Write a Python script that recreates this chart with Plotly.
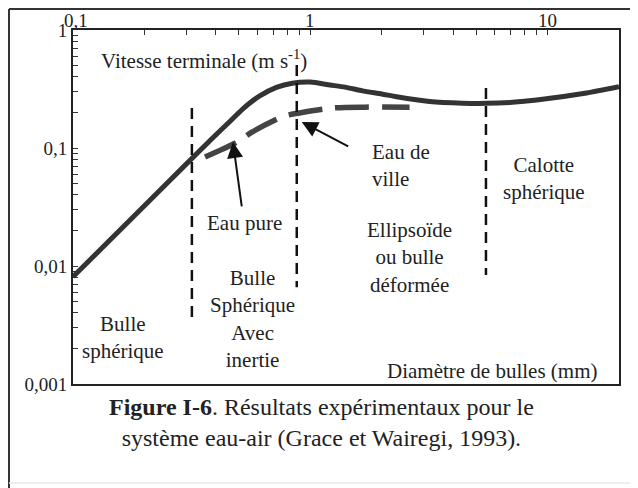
import plotly.graph_objects as go
import math

# ---- data ----
solid_x = [0.1, 0.2, 0.3, 0.38, 0.45, 0.52, 0.61, 0.72, 0.84, 1.0, 1.21, 1.4, 1.66, 2.0, 2.31, 3.18, 4.39, 5.5, 7.1, 9.0, 14.6, 20]
solid_y = [0.0081, 0.0324, 0.073, 0.117, 0.162, 0.215, 0.275, 0.326, 0.354, 0.362, 0.342, 0.328, 0.305, 0.287, 0.272, 0.248, 0.24, 0.239, 0.244, 0.255, 0.292, 0.33]

dashed_x = [0.36, 0.49, 0.57, 0.78, 0.90, 1.24, 1.7, 2.62]
dashed_y = [0.084, 0.112, 0.137, 0.187, 0.198, 0.218, 0.222, 0.222]

vline_x = [0.317, 0.877, 5.5]
vline_top = [0.218, 0.505, 0.322]
vline_bottom = [0.0037, 0.0066, 0.0084]

x_ticks = [0.1, 0.2, 0.3, 0.4, 0.5, 0.6, 0.7, 0.8, 0.9, 1, 2, 3, 4, 5, 6, 7, 8, 9, 10, 20]
x_label_vals = [0.1, 1, 10]
x_label_text = ["0,1", "1", "10"]
y_ticks = [0.001, 0.002, 0.003, 0.004, 0.005, 0.006, 0.007, 0.008, 0.009,
           0.01, 0.02, 0.03, 0.04, 0.05, 0.06, 0.07, 0.08, 0.09,
           0.1, 0.2, 0.3, 0.4, 0.5, 0.6, 0.7, 0.8, 0.9, 1]
y_ticktext = ["0,001"] + [""] * 8 + ["0,01"] + [""] * 8 + ["0,1"] + [""] * 8 + ["1"]

FONT = "Liberation Serif, Times New Roman, serif"
INK = "#222222"
L = math.log10

fig = go.Figure()

fig.add_trace(go.Scatter(x=solid_x, y=solid_y, mode="lines",
                         line=dict(color="#333333", width=5, shape="spline", smoothing=0.6),
                         hoverinfo="skip", showlegend=False))
fig.add_trace(go.Scatter(x=dashed_x, y=dashed_y, mode="lines",
                         line=dict(color="#444444", width=5.5, dash="34px,13px", shape="spline", smoothing=0.8),
                         hoverinfo="skip", showlegend=False))
for vx, vt, vb in zip(vline_x, vline_top, vline_bottom):
    fig.add_trace(go.Scatter(x=[vx, vx], y=[vt, vb], mode="lines",
                             line=dict(color="#111111", width=2.5, dash="11px,7px"),
                             hoverinfo="skip", showlegend=False))

def label(text, x, y, xanchor="center", size=21):
    fig.add_annotation(x=L(x), y=L(y), xref="x", yref="y", text=text, showarrow=False,
                       xanchor=xanchor, yanchor="middle", align=xanchor if xanchor != "center" else "center",
                       font=dict(family=FONT, size=size, color=INK))

label("Vitesse terminale (m s<sup>-1</sup>)", 10 ** -0.448, 10 ** -0.254)
label("Eau pure", 10 ** -0.276, 10 ** -1.636)
label("Bulle<br>Sphérique<br>Avec<br>inertie", 10 ** -0.242, 10 ** -2.445)
label("Bulle<br>sphérique", 10 ** -0.789, 10 ** -2.61)
label("Eau de<br>ville", 10 ** 0.251, 10 ** -1.148, xanchor="left")
label("Calotte<br>sphérique", 10 ** 0.987, 10 ** -1.258)
label("Ellipsoïde<br>ou bulle<br>déformée", 10 ** 0.419, 10 ** -1.932)
label("Diamètre de bulles (mm)", 10 ** 1.219, 10 ** -2.89, xanchor="right")

# top-axis tick labels, set close to the axis line as in the reference
for v, t in zip(x_label_vals, x_label_text):
    fig.add_annotation(x=L(v), y=1, xref="x", yref="paper", text=t, showarrow=False,
                       xanchor="center", yanchor="middle", yshift=10, xshift=3 if v == 0.1 else 0,
                       font=dict(family=FONT, size=19, color=INK))

# arrows (head, tail)
arrows = [((10 ** -0.326, 10 ** -0.949), (10 ** -0.288, 10 ** -1.508)),
          ((10 ** -0.036, 10 ** -0.78), (10 ** 0.166, 10 ** -0.992))]
for (hx, hy), (tx, ty) in arrows:
    fig.add_annotation(x=L(hx), y=L(hy), ax=L(tx), ay=L(ty), xref="x", yref="y",
                       axref="x", ayref="y", text="", showarrow=True,
                       arrowhead=2, arrowsize=1.6, arrowwidth=2, arrowcolor="#111111")

fig.add_annotation(x=0.456, y=-0.109, xref="paper", yref="paper",
                   text="<b>Figure I-6</b>. Résultats expérimentaux pour le<br>système eau-air (Grace et Wairegi, 1993).",
                   showarrow=False, xanchor="center", yanchor="middle", align="center",
                   font=dict(family=FONT, size=24, color=INK))

# outer frame
fig.add_shape(type="line", xref="paper", yref="paper", x0=-0.1172, x1=-0.1172, y0=1.0593, y1=-0.32,
              line=dict(color="#333333", width=2))
fig.add_shape(type="line", xref="paper", yref="paper", x0=-0.1172, x1=1.06, y0=1.0593, y1=1.0593,
              line=dict(color="#333333", width=2))
fig.add_shape(type="line", xref="paper", yref="paper", x0=-0.1172, x1=1.06, y0=-0.2797, y1=-0.2797,
              line=dict(color="#e8e8e8", width=1.5))

fig.update_xaxes(type="log", range=[-1, L(20)], side="top", tickvals=x_ticks, showticklabels=False,
                 ticks="inside", ticklen=5, tickwidth=1.2, tickcolor="#333333",
                 showline=True, linecolor="#222222", linewidth=2, mirror=True,
                 showgrid=False, zeroline=False, automargin=False)
fig.update_yaxes(type="log", range=[-3, 0], tickvals=y_ticks, ticktext=y_ticktext,
                 ticks="inside", ticklen=5, tickwidth=1.2, tickcolor="#333333",
                 showline=True, linecolor="#222222", linewidth=2, mirror=True,
                 showgrid=False, zeroline=False, automargin=False,
                 tickfont=dict(family=FONT, size=19, color=INK))

fig.update_layout(width=630, height=480, margin=dict(l=65, r=19, t=22, b=104, autoexpand=False),
                  paper_bgcolor="white", plot_bgcolor="white", showlegend=False)

fig.write_html("out.html")
